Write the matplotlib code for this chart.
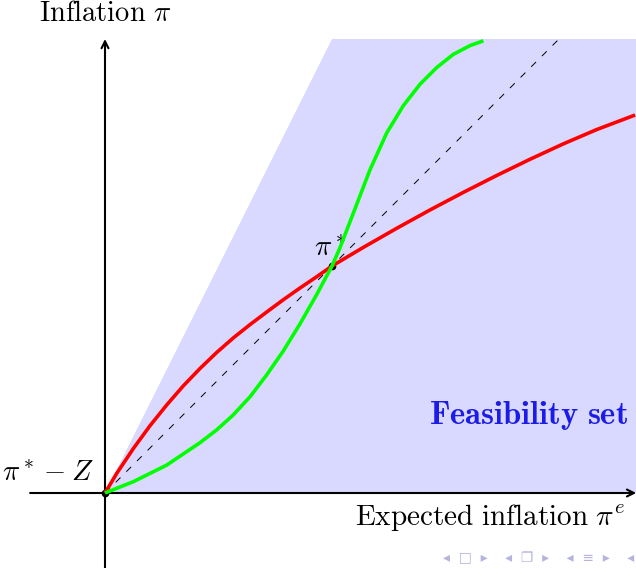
import matplotlib.pyplot as plt

plt.rcParams["mathtext.fontset"] = "cm"

# curves (units: pi* = 1)
red_x = [0, 0.052, 0.125, 0.198, 0.272, 0.345, 0.419, 0.492, 0.565, 0.639, 0.712, 0.785,
         0.859, 0.933, 1.0, 1.138, 1.285, 1.432, 1.578, 1.726, 1.872, 2.019, 2.166, 2.335]
red_y = [0, 0.087, 0.196, 0.296, 0.388, 0.472, 0.549, 0.619, 0.683, 0.742, 0.797, 0.851,
         0.903, 0.953, 1.0, 1.082, 1.166, 1.247, 1.324, 1.399, 1.470, 1.538, 1.601, 1.665]
green_x = [0, 0.125, 0.272, 0.419, 0.492, 0.565, 0.639, 0.712, 0.785, 0.859, 0.933, 1.0,
           1.035, 1.094, 1.167, 1.241, 1.314, 1.388, 1.461, 1.534, 1.608, 1.667]
green_y = [0, 0.050, 0.123, 0.222, 0.278, 0.344, 0.424, 0.520, 0.625, 0.745, 0.875, 1.0,
           1.080, 1.233, 1.423, 1.586, 1.706, 1.801, 1.874, 1.932, 1.971, 1.992]
feas_x = [0, 1.0, 2.34, 2.34]
feas_y = [0, 2.0, 2.0, 0]
diag = [0, 2.0]

px = 227.0  # pixels per unit
fig = plt.figure(figsize=(6.36, 5.68), dpi=100)
ax = fig.add_axes([0, 0, 1, 1])
ax.set_xlim(-105 / px, 531 / px)
ax.set_ylim(-75 / px, 493 / px)
ax.axis("off")

ax.fill(feas_x, feas_y, color="#d9d9ff", lw=0, zorder=1)
ax.plot(diag, diag, color="black", lw=0.7, dashes=(7, 8.5), zorder=2)

# axes with arrows
arrow = dict(arrowstyle="->,head_length=0.5,head_width=0.25", lw=1.5, color="black",
             shrinkA=0, shrinkB=0)
ax.annotate("", xy=(2.34, 0), xytext=(-0.33, 0), arrowprops=arrow, zorder=3)
ax.annotate("", xy=(0, 2.0), xytext=(0, -0.33), arrowprops=arrow, zorder=3)

ax.plot([0, 1], [0, 1], "o", color="black", ms=4.5, lw=0, zorder=3.5)
ax.plot(red_x, red_y, color="#ff0000", lw=2.6, zorder=4, solid_capstyle="butt",
        solid_joinstyle="round")
ax.plot(green_x, green_y, color="#00ff00", lw=2.6, zorder=4, solid_capstyle="butt",
        solid_joinstyle="round")

ax.text(0.0, 2.079, r"$\mathrm{Inflation}\ \pi$", fontsize=20.5, ha="center", va="baseline")
ax.text(2.29, -0.141, r"$\mathrm{Expected\ inflation}\ \pi^e$", fontsize=21,
        ha="right", va="baseline")
ax.text(-0.05, 0.048, r"$\pi^* - Z$", fontsize=20.5, ha="right", va="baseline")
ax.text(0.991, 1.04, r"$\pi^*$", fontsize=20.5, ha="center", va="baseline")
ax.text(2.304, 0.304, r"$\mathbf{Feasibility\ set}$", fontsize=23.5, ha="right",
        va="baseline", color="#1c1ce6")

# beamer navigation symbols
fig.text(0.998, 0.018, "◂  □  ▸    ◂  ❐  ▸    ◂  ≡  ▸    ◂", fontsize=10, color="#b4b4dc",
         ha="right", va="center", family="DejaVu Sans")

fig.savefig("out.png", dpi=100)
